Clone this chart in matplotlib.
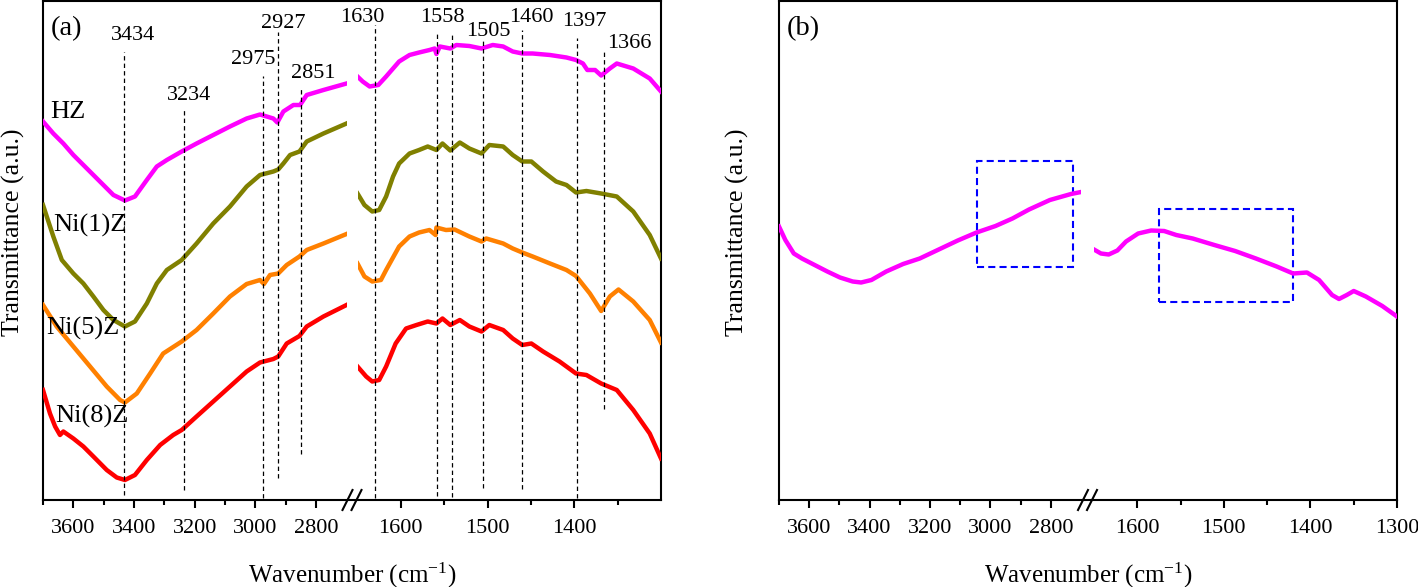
import matplotlib
matplotlib.use('Agg')
import matplotlib.pyplot as plt
from matplotlib.patches import Rectangle

# FTIR spectra, broken x axis: 3700-2700 | 1650-1300 cm-1
# transmittance in arbitrary units (0-100)

'''panel (a) data - high wavenumber part'''
hz_wn_hi = [3700, 3666, 3633, 3600, 3567, 3534, 3501, 3468, 3430, 3397, 3358, 3325, 3292, 3243,
            3194, 3139, 3084, 3029, 2985, 2941, 2928, 2908, 2875, 2853, 2831, 2776, 2700]
hz_t_hi = [75.7, 73.3, 71.3, 69, 67, 65, 63, 61, 59.9, 60.7, 64, 66.7, 68, 69.7,
           71.3, 73, 74.7, 76.3, 77.1, 76.3, 75.5, 77.7, 79, 79, 81, 82, 83.3]

ni1_wn_hi = [3700, 3666, 3638, 3600, 3567, 3534, 3501, 3468, 3430, 3397, 3358, 3325, 3292, 3243,
             3194, 3139, 3084, 3029, 2985, 2941, 2925, 2908, 2886, 2855, 2831, 2776, 2700]
ni1_t_hi = [59, 52.7, 48, 45.3, 43.3, 40.7, 38, 36, 34.7, 35.7, 39.3, 43.3, 46, 48,
            51.3, 55.3, 58.7, 62.7, 65, 65.7, 66.1, 67.3, 69, 69.7, 71.7, 73.3, 75.3]

ni5_wn_hi = [3700, 3655, 3600, 3545, 3490, 3446, 3430, 3391, 3347, 3304, 3243, 3194, 3139, 3084,
             3029, 2985, 2972, 2952, 2925, 2897, 2855, 2831, 2776, 2700]
ni5_t_hi = [39, 34.7, 30.7, 26.7, 22.7, 20, 19.5, 21.3, 25.3, 29.3, 31.7, 34, 37.3, 40.7,
            43.2, 44, 43.2, 45, 45.3, 47, 48.7, 50, 51.3, 53.2]

ni8_wn_hi = [3700, 3677, 3660, 3644, 3633, 3600, 3567, 3534, 3490, 3457, 3430, 3397, 3358, 3314,
             3271, 3243, 3194, 3139, 3084, 3029, 2985, 2941, 2925, 2897, 2855, 2831, 2776, 2700]
ni8_t_hi = [22, 17.3, 14.7, 13, 13.7, 12.3, 10.7, 8.7, 6, 4.5, 4, 5, 8, 11,
            13, 14, 16.7, 19.7, 22.7, 25.7, 27.5, 28.2, 28.7, 31.3, 32.8, 34.7, 36.7, 39]

'''panel (a) data - low wavenumber part'''
hz_wn_lo = [1650, 1644, 1636, 1626, 1617, 1602, 1590, 1579, 1567, 1561, 1559, 1555, 1543, 1536,
            1521, 1507, 1494, 1482, 1471, 1460, 1448, 1428, 1409, 1398, 1390, 1385, 1376, 1369,
            1359, 1351, 1332, 1313, 1300]
hz_t_lo = [84.7, 83.7, 82.7, 83, 84.7, 87.7, 89, 89.5, 90, 90.3, 89.2, 90.7, 90.3, 91,
           90.8, 90.3, 91, 90.7, 89.7, 89.3, 89.3, 89, 88.5, 88, 87.3, 86, 86, 84.9,
           86.3, 87.3, 86.3, 84.3, 81.7]

ni1_wn_lo = [1650, 1642, 1633, 1625, 1617, 1609, 1602, 1590, 1579, 1569, 1559, 1552, 1543, 1532,
             1521, 1507, 1498, 1482, 1471, 1460, 1449.5, 1436, 1421, 1409, 1398, 1386, 1369,
             1351, 1332, 1313, 1300]
ni1_t_lo = [61.3, 59, 57.7, 58, 60.7, 64.7, 67.3, 69.3, 70, 70.7, 70, 71.3, 69.9, 71.5,
            70.3, 69.3, 71, 70.7, 69, 67.7, 67.7, 65.7, 63.7, 63, 61.5, 61.8, 61.3,
            60.7, 57.7, 53, 48.3]

ni5_wn_lo = [1650, 1642, 1633, 1623, 1617, 1602, 1590, 1579, 1567, 1560, 1559, 1548, 1538, 1521,
             1507, 1501.5, 1482, 1471, 1460, 1448, 1428, 1409, 1398, 1382, 1369, 1359, 1349,
             1332, 1313, 1300]
ni5_t_lo = [47.3, 44.7, 43.7, 44, 46, 50.7, 52.7, 53.5, 54, 53, 54.5, 54, 54.1, 52.7,
            51.7, 52.3, 51.3, 50.3, 49.5, 48.7, 47.3, 46, 44.8, 41.3, 37.8, 40.7, 42.1,
            39.7, 36, 31.5]

ni8_wn_lo = [1650, 1640, 1633, 1625, 1617, 1606, 1594, 1582, 1569, 1559, 1552, 1543, 1532, 1521,
             1507, 1498, 1482, 1471, 1460, 1449.5, 1436, 1417, 1398, 1386, 1369, 1351, 1332,
             1313, 1300]
ni8_t_lo = [26.7, 24.7, 23.7, 24, 26.7, 31.3, 34.3, 35, 35.7, 35.3, 36.3, 35, 36, 34.7,
            33.7, 35, 34, 32.3, 31, 31.3, 29.7, 27.7, 25.3, 25, 23.3, 22, 18,
            13.3, 8.3]

samples = ['HZ', 'Ni(1)Z', 'Ni(5)Z', 'Ni(8)Z']
colors = ['#ff00ff', '#808000', '#ff8000', '#ff0000']
label_pos = [(3677, 77.7), (3667, 55), (3688, 34.4), (3660, 16.7)]

# peak markers: (wavenumber, top, bottom, label, label x, label y)
peaks_hi = [(3434, 89.6, 1, '3434', 3404, 93),
            (3234, 78, 2, '3234', 3219, 81),
            (2975, 84.8, 0.4, '2975', 3008, 88),
            (2927, 93.6, 4.4, '2927', 2909, 95.4),
            (2851, 82.4, 9.2, '2851', 2810, 85.4)]
peaks_lo = [(1630, 95, 0.4, '1630', 1644.5, 96.6),
            (1558, 93.6, 0.8, '1558', 1552, 96.4),
            (1541, 93.6, 0.6, '', 0, 0),
            (1505, 92, 2.4, '1505', 1499, 93.6),
            (1460, 94, 2.2, '1460', 1449, 96.6),
            (1397, 92.4, 0.4, '1397', 1389, 95.6),
            (1366, 89.6, 18.2, '1366', 1336, 91.4)]

'''panel (b) data'''
b_wn_hi = [3700, 3679, 3651, 3624, 3582, 3540, 3498, 3456, 3428, 3394, 3345, 3289, 3234, 3178,
           3108, 3046, 2983, 2927, 2872, 2803, 2733, 2700]
b_t_hi = [54.7, 52, 49.3, 48.3, 47, 45.7, 44.5, 43.7, 43.5, 44, 45.7, 47.2, 48.3, 49.9,
          51.9, 53.5, 54.8, 56.3, 58.1, 60, 61.2, 61.6]
b_wn_lo = [1650, 1642, 1633, 1623, 1613, 1599, 1584, 1569, 1555, 1536, 1511, 1487, 1463, 1439,
           1420, 1404, 1390, 1375, 1367, 1358, 1350, 1336, 1317, 1300]
b_t_lo = [50.1, 49.3, 49.1, 49.9, 51.7, 53.3, 53.9, 53.8, 53, 52.3, 51, 49.8, 48.3, 46.7,
          45.3, 45.5, 44, 41, 40.2, 41, 41.8, 40.7, 38.8, 36.7]
# highlighted regions: (wn start, wn end, t low, t high)
box_hi = (3045, 2727, 46.6, 67.8)
box_lo = (1575, 1420, 39.6, 58.2)

plt.rcParams['font.family'] = 'Liberation Serif'
plt.rcParams['mathtext.fontset'] = 'custom'
plt.rcParams['mathtext.rm'] = 'Liberation Serif'
plt.rcParams['mathtext.it'] = 'Liberation Serif:italic'

W, H = 1418., 587.


def box(l, r, t, b):
    return [l / W, 1 - b / H, (r - l) / W, (b - t) / H]


fig = plt.figure(figsize=(W / 100, H / 100), dpi=100)


def make_panel(l, r, t, b, gl, gr, lo_ticks, tag):
    frame = fig.add_axes(box(l, r, t, b))
    frame.set_xticks([])
    frame.set_yticks([])
    for s in frame.spines.values():
        s.set_linewidth(1.5)
    axl = fig.add_axes(box(l, gl, t, b))
    axr = fig.add_axes(box(gr, r, t, b))
    for ax in (axl, axr):
        ax.set_frame_on(False)
        ax.set_ylim(0, 99.8)
        ax.tick_params(axis='y', left=False, labelleft=False)
        ax.tick_params(axis='x', which='major', direction='out', length=6, width=1.5,
                       labelsize=16, pad=8)
        ax.tick_params(axis='x', which='minor', direction='out', length=3.5, width=1.5)
    axl.set_xlim(3700, 2700)
    axl.set_xticks([3600, 3400, 3200, 3000, 2800])
    axl.set_xticks([3700, 3500, 3300, 3100, 2900], minor=True)
    axr.set_xlim(1650, 1300)
    axr.set_xticks(lo_ticks)
    axr.set_xticks([1550, 1450, 1350], minor=True)
    # break marks on the bottom axis
    c = ((gl + gr) / 2 - l) / (r - l)
    dx = 5. / (r - l)
    dy = 10. / (b - t)
    for off in (-4.5 / (r - l), 4.5 / (r - l)):
        frame.plot([c + off - dx, c + off + dx], [-dy, dy], color='k', lw=1.5,
                   transform=frame.transAxes, clip_on=False)
    frame.text(0.012, 0.945, tag, transform=frame.transAxes, fontsize=20.5,
               ha='left', va='center')
    fig.text((l + r) / 2 / W, 1 - 575 / H, 'Wavenumber (cm$^{\\mathrm{-1}}$)',
             ha='center', va='center', fontsize=18)
    return axl, axr


'''Panel (a)'''
axl, axr = make_panel(43, 661, 1, 500, 346.5, 357.5, [1600, 1500, 1400], '(a)')
fig.text(13 / W, 1 - 232 / H, 'Transmittance (a.u.)', rotation=90, ha='center',
         va='center', fontsize=18.5)

hi_sets = [(hz_wn_hi, hz_t_hi), (ni1_wn_hi, ni1_t_hi), (ni5_wn_hi, ni5_t_hi), (ni8_wn_hi, ni8_t_hi)]
lo_sets = [(hz_wn_lo, hz_t_lo), (ni1_wn_lo, ni1_t_lo), (ni5_wn_lo, ni5_t_lo), (ni8_wn_lo, ni8_t_lo)]
for i in range(len(samples)):
    axl.plot(hi_sets[i][0], hi_sets[i][1], color=colors[i], lw=3.2)
    axr.plot(lo_sets[i][0], lo_sets[i][1], color=colors[i], lw=3.2)
    axl.text(label_pos[i][0], label_pos[i][1], samples[i], fontsize=19,
             ha='left', va='center')

for ax, peaks in ((axl, peaks_hi), (axr, peaks_lo)):
    for p in peaks:
        ax.vlines(p[0], p[2], p[1], colors='k', lw=0.9, linestyles=(0, (3.5, 2.5)))
        if p[3]:
            ax.text(p[4], p[5], p[3], fontsize=16, ha='center', va='center')

'''Panel (b)'''
bxl, bxr = make_panel(779, 1397, 1, 500, 1081, 1094, [1600, 1500, 1400, 1300], '(b)')
fig.text(737 / W, 1 - 232 / H, 'Transmittance (a.u.)', rotation=90, ha='center',
         va='center', fontsize=18.5)
bxl.plot(b_wn_hi, b_t_hi, color=colors[0], lw=3.2)
bxr.plot(b_wn_lo, b_t_lo, color=colors[0], lw=3.2)
for ax, bx in ((bxl, box_hi), (bxr, box_lo)):
    ax.add_patch(Rectangle((bx[0], bx[2]), bx[1] - bx[0], bx[3] - bx[2], fill=False,
                           edgecolor='#0000ff', lw=1.5, linestyle=(0, (3.4, 2))))

fig.savefig('out.png', dpi=100)
